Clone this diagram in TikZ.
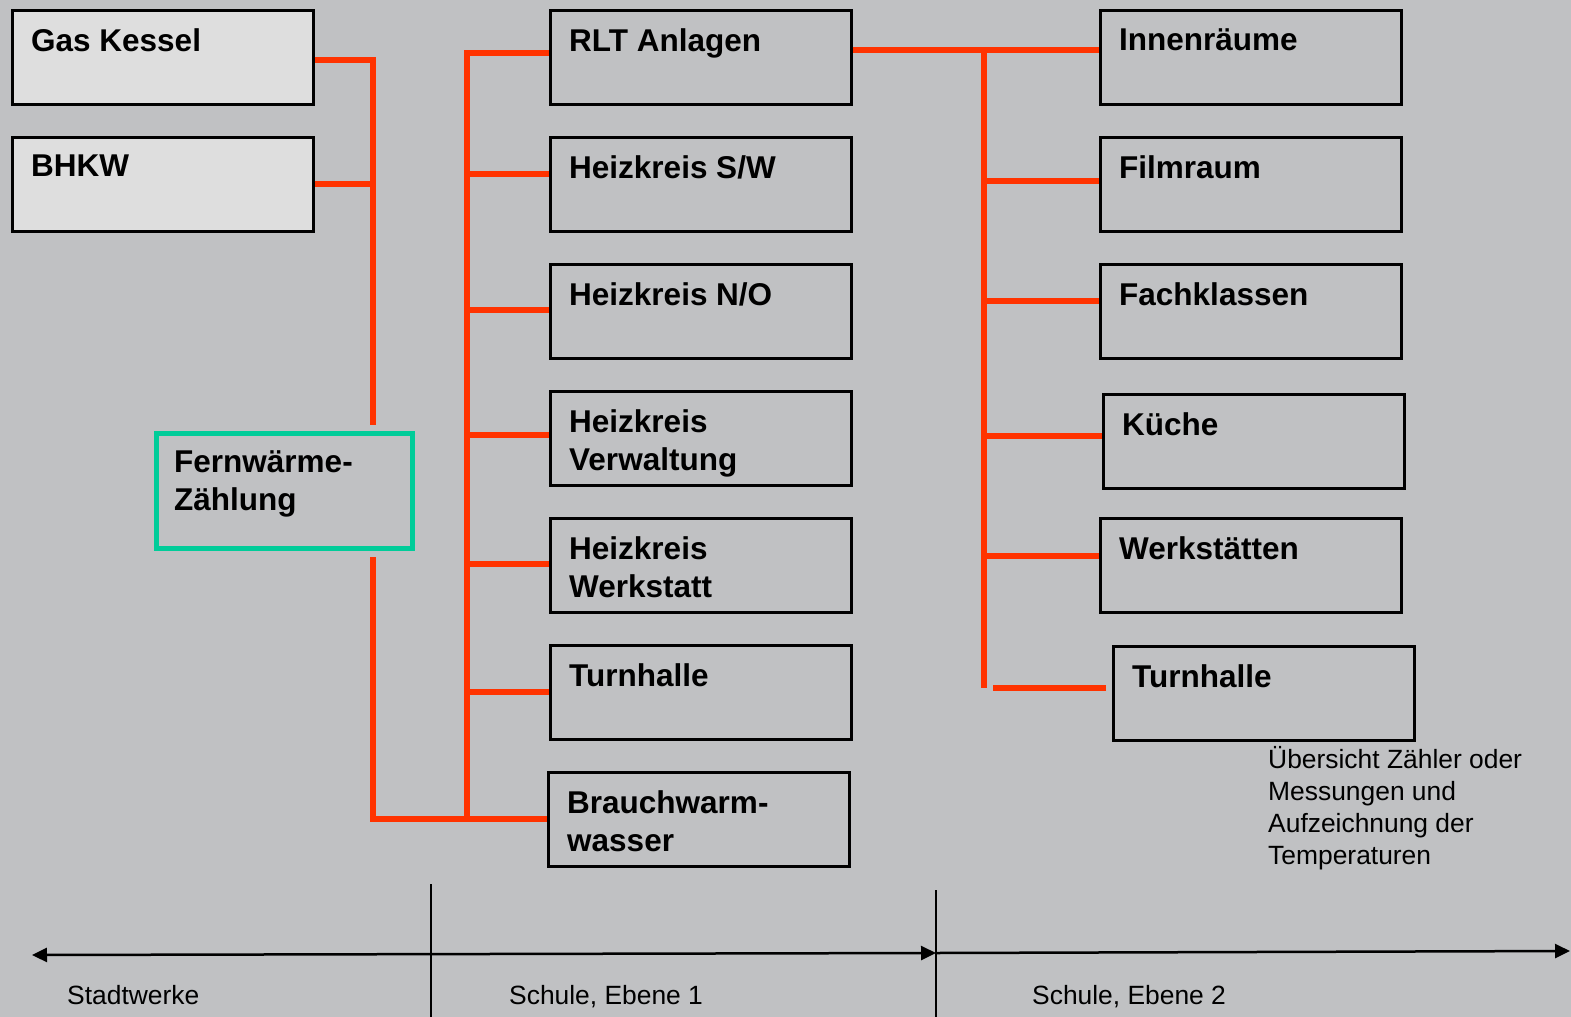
\documentclass[tikz,border=0pt]{standalone}
\usepackage{fontspec}
\setmainfont{Liberation Sans}
\definecolor{bgGrey}{HTML}{C0C1C3}
\definecolor{boxLight}{HTML}{DEDEDE}
\definecolor{pipeRed}{HTML}{FF3300}
\definecolor{meterGreen}{HTML}{00CC99}
\newcommand{\boxfont}{\fontsize{31.5}{38}\selectfont\bfseries}
\newcommand{\notefont}{\fontsize{26.4}{32}\selectfont}
\usetikzlibrary{arrows.meta, calc}

\begin{document}
\begin{tikzpicture}[
    x=1pt, y=-1pt,
    box/.style={rectangle, draw=black, line width=2.5pt, minimum width=301pt, minimum height=94pt,
        anchor=north west, inner sep=0pt,
        label={[anchor=north west, inner sep=0pt, xshift=20pt, yshift=-19pt, align=left, font=\boxfont]north west:#1}},
    pipe/.style={draw=pipeRed, line width=6pt},
    axis/.style={line width=2.5pt, {Triangle[length=15pt,width=14pt]}-{Triangle[length=15pt,width=14pt]}},
    axisend/.style={line width=2.5pt, -{Triangle[length=15pt,width=14pt]}},
    note/.style={font=\notefont, inner sep=0pt, align=left}
]
\fill[bgGrey] (0,0) rectangle (1571,1017);
\useasboundingbox (0,0) rectangle (1571,1017);

% Stadtwerke
\node[box=Gas Kessel, fill=boxLight] (gas) at (11,9) {};
\node[box=BHKW, fill=boxLight] (bhkw) at (11,136) {};
\node[box={Fernwärme-\\Zählung}, draw=meterGreen, line width=4.5pt, minimum width=256pt, minimum height=115pt] (fern) at (154,431) {};

% Schule, Ebene 1
\node[box=RLT Anlagen] (rlt) at (549,9) {};
\node[box=Heizkreis S/W] (sw) at (549,136) {};
\node[box=Heizkreis N/O] (no) at (549,263) {};
\node[box={Heizkreis\\Verwaltung}] (verw) at (549,390) {};
\node[box={Heizkreis\\Werkstatt}] (werk) at (549,517) {};
\node[box=Turnhalle] (turnA) at (549,644) {};
\node[box={Brauchwarm-\\wasser}] (bww) at (547,771) {};

% Schule, Ebene 2
\node[box=Innenräume] (innen) at (1099,9) {};
\node[box=Filmraum] (film) at (1099,136) {};
\node[box=Fachklassen] (fach) at (1099,263) {};
\node[box=Küche] (kueche) at (1102,393) {};
\node[box=Werkstätten] (werkst) at (1099,517) {};
\node[box=Turnhalle] (turnB) at (1112,645) {};

% Bus coordinates
\coordinate (busL) at (373,425);
\coordinate (busLlow) at (373,557);
\coordinate (busM) at (467,817);
\coordinate (busR) at (984,688);

% Pipes
\draw[pipe] ([yshift=-2.5pt]gas.east) -| (busL);
\draw[pipe] (bhkw.east) -- (bhkw.east -| busL);
\draw[pipe] (busLlow) |- (bww.west);
\draw[pipe] ([yshift=4pt]rlt.west) -| (busM);
\foreach \n/\d in {sw/10, no/1, verw/3, werk/1, turnA/0}
    \draw[pipe] ([yshift=\d pt]\n.west) -- ([yshift=\d pt]\n.west -| busM);
\draw[pipe] ([yshift=7.5pt]rlt.east) -- ([yshift=7.5pt]innen.west);
\draw[pipe] ([yshift=7.5pt]innen.west -| busR) -- (busR);
\foreach \n/\d in {film/3, fach/10, kueche/5, werkst/9}
    \draw[pipe] ([yshift=\d pt]\n.west) -- ([yshift=\d pt]\n.west -| busR);
\draw[pipe] ([yshift=5pt, xshift=-6pt]turnB.west) -- ([yshift=5pt, xshift=9pt]turnB.west -| busR);

% Note
\node[note, anchor=north west] (legend) at (1268,746) {Übersicht Zähler oder\\Messungen und\\Aufzeichnung der\\Temperaturen};

% Axis
\coordinate (axL) at (32,955);
\coordinate (tickA) at (431,884);
\coordinate (tickB) at (936,890);
\coordinate (axB) at (936,953);
\coordinate (axR) at (1570,951);
\draw[line width=2pt] (tickA) -- (tickA |- 0,1017);
\draw[line width=2pt] (tickB) -- (tickB |- 0,1017);
\draw[axis] (axL) -- (axB);
\draw[axisend] (axB) -- (axR);

\node[note, anchor=base west] (stadt) at (67,1004) {Stadtwerke};
\node[note, anchor=base west] (eb1) at (509,1004) {Schule, Ebene 1};
\node[note, anchor=base west] (eb2) at (1032,1004) {Schule, Ebene 2};

\end{tikzpicture}
\end{document}
